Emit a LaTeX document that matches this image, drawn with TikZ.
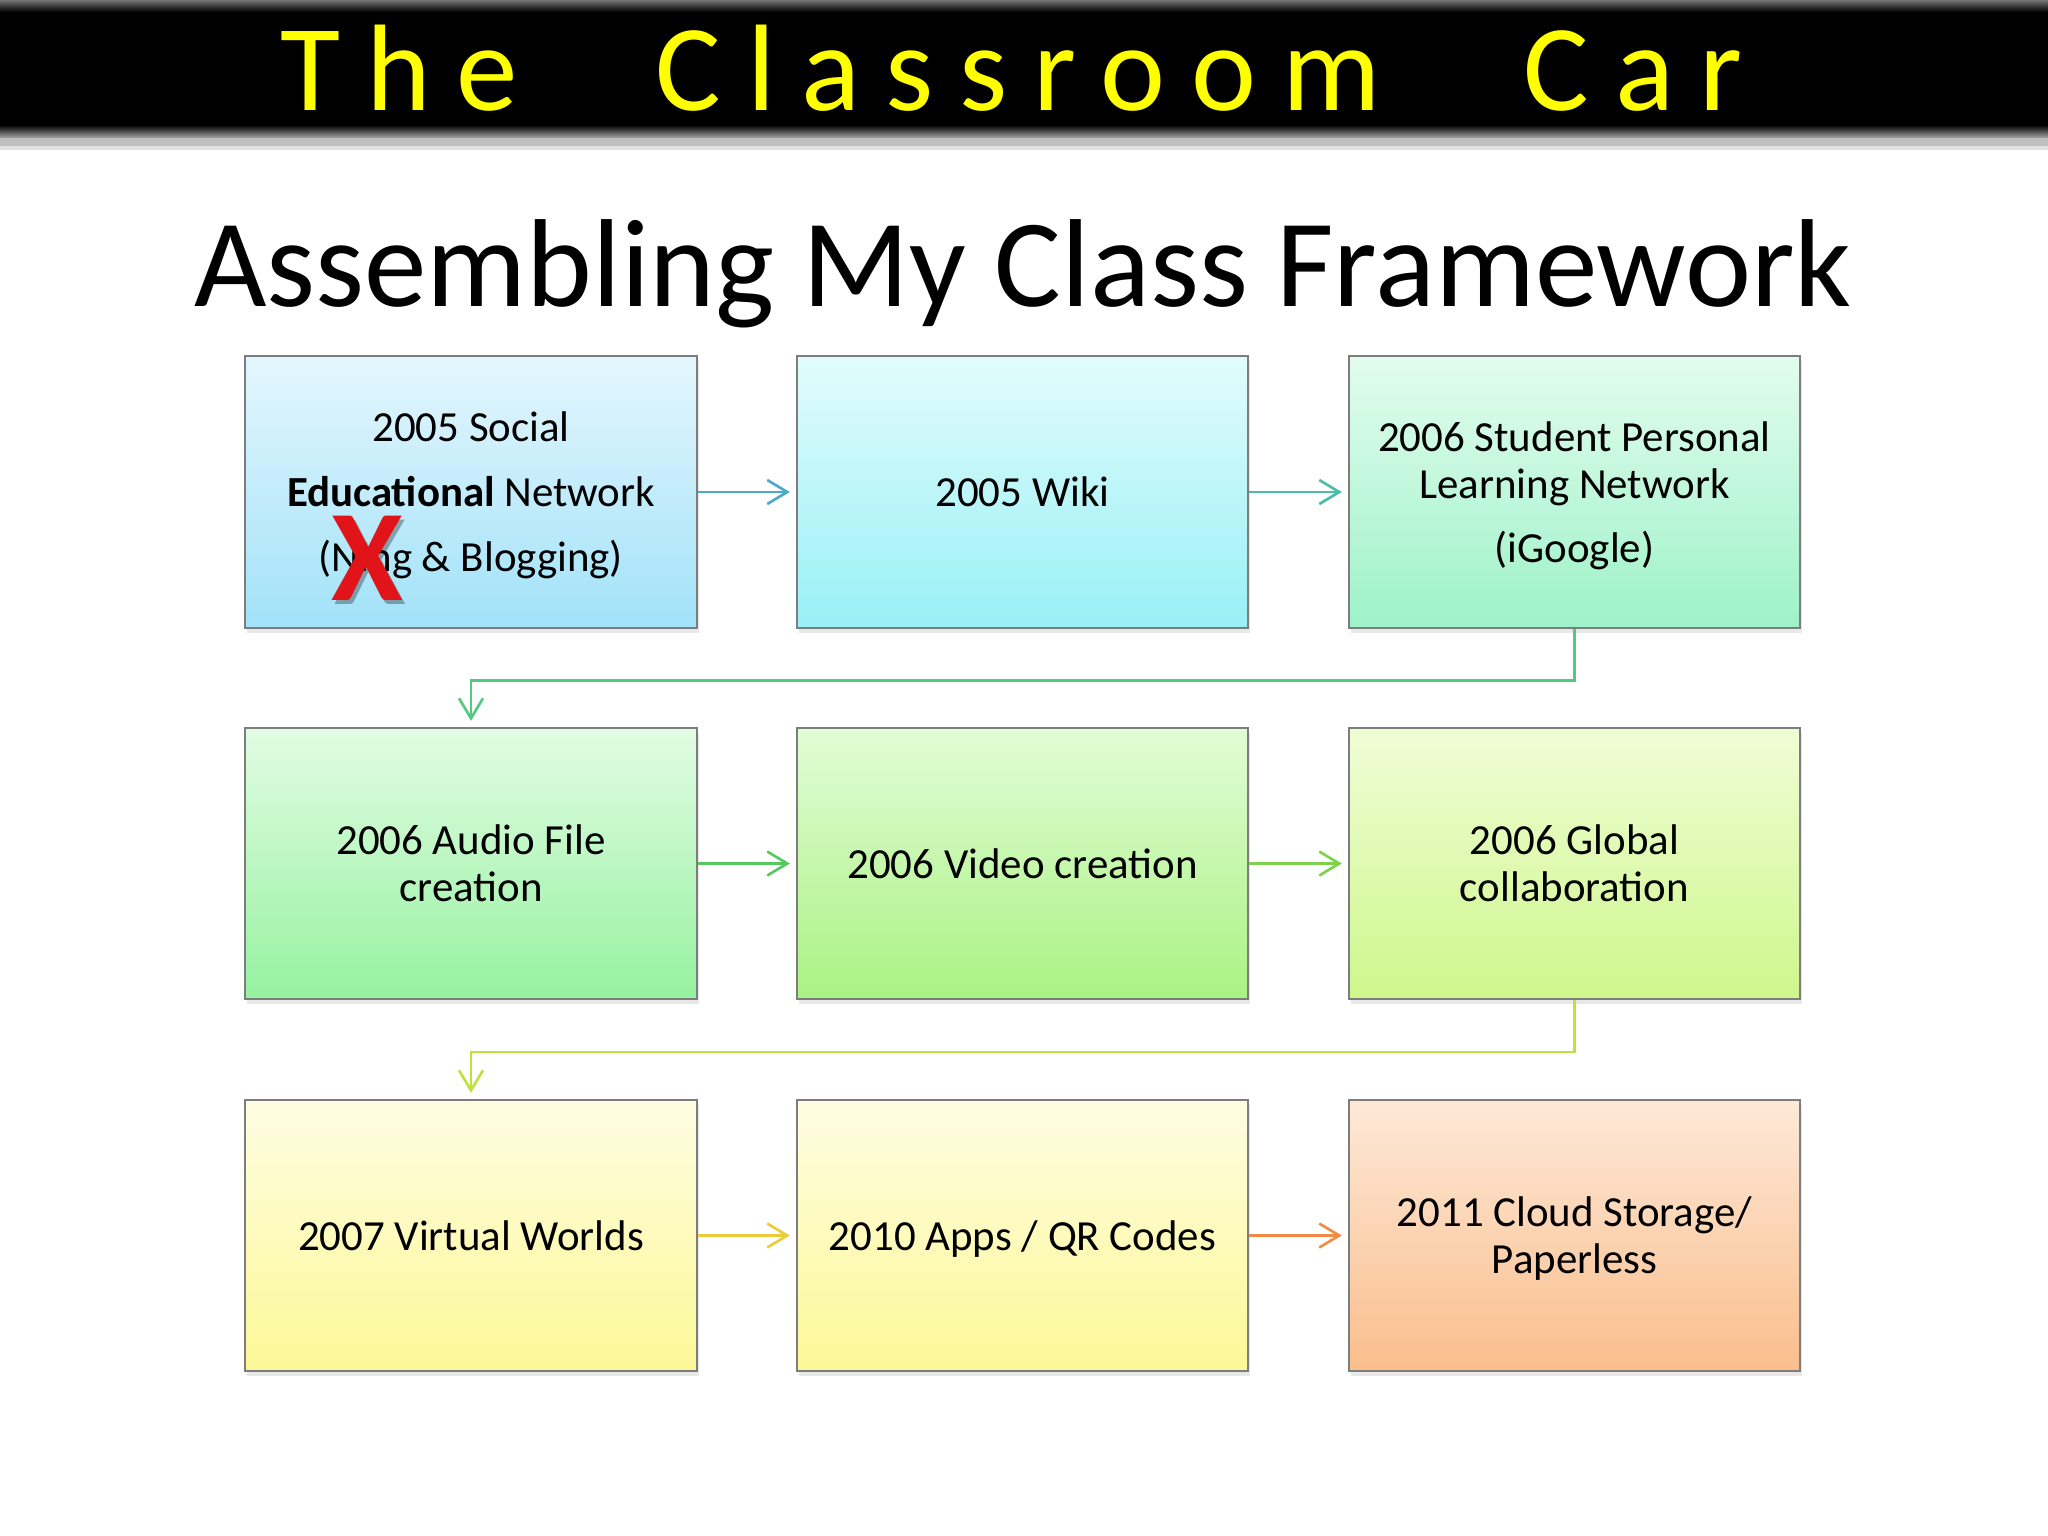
\documentclass[tikz,border=0pt]{standalone}
\usepackage{fontspec}
\setmainfont{Carlito}
\newfontfamily\titlefont[LetterSpace=21]{Carlito}
\usetikzlibrary{arrows.meta,shadows}
\definecolor{ca1}{RGB}{75,170,200}
\definecolor{ca2}{RGB}{72,190,170}
\definecolor{ca3}{RGB}{85,200,130}
\definecolor{ca4}{RGB}{85,200,95}
\definecolor{ca5}{RGB}{125,210,75}
\definecolor{ca6}{RGB}{190,225,60}
\definecolor{ca7}{RGB}{235,205,60}
\definecolor{ca8}{RGB}{240,140,70}
\definecolor{titleyellow}{RGB}{255,255,0}
\definecolor{xred}{RGB}{225,20,25}
\newcommand{\nodepth}[1]{\raisebox{0pt}[\height][0pt]{#1}}
\tikzset{
  box/.style={draw={rgb,255:red,125;green,125;blue,125}, line width=0.6pt,
    minimum width=4.51cm, minimum height=2.71cm, inner sep=0pt,
    align=center, text=black, font=\fontsize{12.2}{13.4}\selectfont,
    drop shadow={shadow xshift=0.02cm, shadow yshift=-0.05cm, opacity=0.18}},
  arr/.style={line width=0.75pt, -{Straight Barb[length=0.2cm,width=0.24cm,line width=0.75pt]}, shorten >=0.06cm},
}
\begin{document}
\begin{tikzpicture}[x=0.01cm,y=-0.01cm]
\useasboundingbox (0,0) rectangle (2048,1536);
\fill[white] (0,0) rectangle (2048,1536);
% title bar
\fill[black!25] (0,135) rectangle (2048,146);
\fill[black!12] (0,146) rectangle (2048,150);
\fill[black] (0,0) rectangle (2048,137);
\shade[top color=black!55, bottom color=black] (0,0) rectangle (2048,12);
\shade[top color=black, bottom color=black!40] (0,125) rectangle (2048,137);
\node[anchor=base west, inner sep=0pt, text=titleyellow, font=\titlefont\fontsize{35}{35}\selectfont] (tw1) at (280,110) {The};
\node[anchor=base west, inner sep=0pt, text=titleyellow, font=\titlefont\fontsize{35}{35}\selectfont] (tw2) at (655,110) {Classroom};
\node[anchor=base west, inner sep=0pt, text=titleyellow, font=\titlefont\fontsize{35}{35}\selectfont] (tw3) at (1523,110) {Car};
% heading
\node[anchor=base, inner sep=0pt, font=\fontsize{35.6}{35.6}\selectfont] (head) at (1023,306) {Assembling My Class Framework};
% boxes
\node[box, top color={rgb,255:red,228;green,246;blue,253}, bottom color={rgb,255:red,162;green,226;blue,249},
  font=\fontsize{12.2}{18.5}\selectfont] (b1) at (471,492)
  {2005 Social\\ \textbf{Educational} Network\\ \nodepth{(Ning \& Blogging)}};
\node[box, top color={rgb,255:red,226;green,252;blue,252}, bottom color={rgb,255:red,152;green,240;blue,246}] (b2) at (1022.5,492) {2005 Wiki};
\node[box, top color={rgb,255:red,226;green,252;blue,238}, bottom color={rgb,255:red,158;green,242;blue,200}] (b3) at (1574.5,492)
  {2006 Student Personal\\ Learning Network\\[4.6pt] \nodepth{(iGoogle)}};
\node[box, top color={rgb,255:red,226;green,252;blue,228}, bottom color={rgb,255:red,150;green,242;blue,160}] (b4) at (471,863.5) {2006 Audio File\\ creation};
\node[box, top color={rgb,255:red,226;green,252;blue,214}, bottom color={rgb,255:red,170;green,242;blue,132}] (b5) at (1022.5,863.5) {2006 Video creation};
\node[box, top color={rgb,255:red,240;green,253;blue,214}, bottom color={rgb,255:red,206;green,247;blue,140}] (b6) at (1574.5,863.5) {2006 Global\\ collaboration};
\node[box, top color={rgb,255:red,254;green,253;blue,226}, bottom color={rgb,255:red,252;green,248;blue,150}] (b7) at (471,1235.5) {2007 Virtual Worlds};
\node[box, top color={rgb,255:red,254;green,253;blue,226}, bottom color={rgb,255:red,252;green,248;blue,150}] (b8) at (1022.5,1235.5) {\nodepth{2010 Apps / QR Codes}};
\node[box, top color={rgb,255:red,253;green,233;blue,216}, bottom color={rgb,255:red,250;green,190;blue,140}] (b9) at (1574.5,1235.5) {2011 Cloud Storage/\\ \nodepth{Paperless}};
% red X
\node[inner sep=0pt, text=black, opacity=0.3, font=\bfseries\fontsize{37}{37}\selectfont] (xs) at (370,562) {X};
\node[inner sep=0pt, text=xred, font=\bfseries\fontsize{37}{37}\selectfont] (xm) at (367,558) {X};
% connectors
\draw[arr, ca1] (b1.east) -- (b2.west);
\draw[arr, ca2] (b2.east) -- (b3.west);
\draw[arr, ca3] (b3.south) -- ++(0,52) -| (b4.north);
\draw[arr, ca4] (b4.east) -- (b5.west);
\draw[arr, ca5] (b5.east) -- (b6.west);
\draw[arr, ca6] (b6.south) -- ++(0,52) -| (b7.north);
\draw[arr, ca7] (b7.east) -- (b8.west);
\draw[arr, ca8] (b8.east) -- (b9.west);
\end{tikzpicture}
\end{document}
